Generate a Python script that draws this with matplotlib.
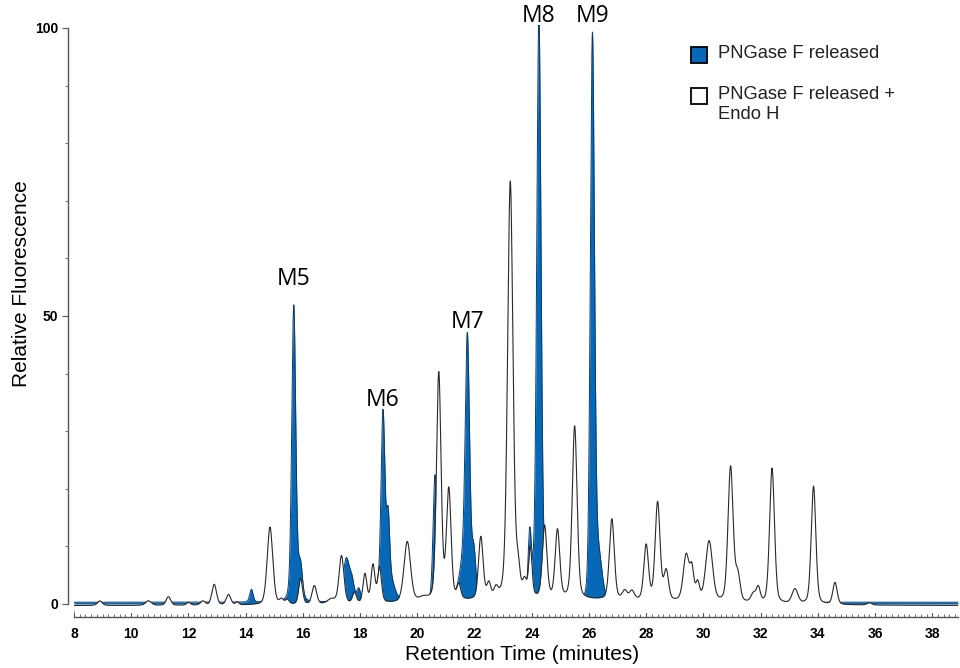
import numpy as np
import matplotlib
matplotlib.use("Agg")
import matplotlib.pyplot as plt
from matplotlib.patches import Rectangle
from matplotlib.ticker import MultipleLocator

# peak tables: retention time (min), height (%), FWHM (min)
endo_pos = [8.9, 10.6, 11.3, 12.0, 12.5, 12.9, 13.4, 13.7, 14.85, 15.25, 15.45, 15.92, 16.4,
            17.0, 17.35, 17.8, 18.17, 18.45, 18.68, 19.65, 20.2, 20.75, 21.1, 21.45, 22.22,
            22.5, 22.75, 23.25, 23.52, 23.75, 23.95, 24.45, 24.9, 25.5, 26.8, 27.25, 27.5,
            28.0, 28.4, 28.7, 29.4, 29.6, 29.8, 30.2, 30.95, 31.2, 31.75, 31.92, 32.4, 33.2,
            33.85, 34.6, 35.8, 25.0]
endo_height = [0.8, 0.8, 1.5, 0.5, 0.7, 3.6, 1.8, 0.5, 13.5, 0.8, 0.8, 4.5, 3.2,
               0.8, 8.3, 1.8, 5.0, 6.5, 6.0, 10.5, 0.6, 39.5, 19.0, 2.5, 10.8,
               2.5, 1.5, 72.5, 4.5, 2.5, 8.5, 12.5, 11.8, 30.0, 14.0, 1.5, 1.5,
               9.5, 17.0, 5.0, 8.0, 5.0, 3.0, 10.5, 23.5, 4.5, 1.5, 2.5, 23.5, 2.5,
               20.5, 3.8, 0.4, 1.0]
endo_fwhm = [0.2, 0.24, 0.19, 0.16, 0.2, 0.19, 0.19, 0.14, 0.23, 0.16, 0.16, 0.16, 0.19,
             0.34, 0.2, 0.16, 0.16, 0.16, 0.16, 0.27, 0.34, 0.19, 0.19, 0.16, 0.19,
             0.16, 0.16, 0.22, 0.16, 0.16, 0.14, 0.19, 0.19, 0.2, 0.2, 0.2, 0.2,
             0.19, 0.2, 0.19, 0.24, 0.16, 0.16, 0.28, 0.21, 0.19, 0.2, 0.16, 0.2, 0.24,
             0.19, 0.18, 0.2, 10.0]
endo_base = -0.3

png_pos = [14.2, 15.68, 15.75, 15.92, 17.52, 17.72, 17.95, 18.8, 18.98, 18.9, 20.62,
           21.75, 21.7, 21.98, 23.93, 24.25, 24.27, 26.12, 26.32]
png_height = [2.2, 48.0, 4.0, 4.5, 7.5, 3.0, 2.2, 27.5, 9.5, 6.5, 22.0,
              38.0, 9.0, 6.0, 10.5, 95.0, 7.0, 96.5, 8.0]
png_fwhm = [0.14, 0.16, 0.35, 0.15, 0.26, 0.18, 0.16, 0.15, 0.12, 0.5, 0.16,
            0.17, 0.45, 0.15, 0.13, 0.17, 0.45, 0.17, 0.3]
png_base = 0.3

mannose_labels = ["M5", "M6", "M7", "M8", "M9"]
mannose_rt = [15.68, 18.8, 21.75, 24.25, 26.12]
mannose_top = [53, 33.5, 46, 99.7, 99.5]
label_dy = [14.5, 8, 12, 10, 11]   # points above peak tip

BLUE = "#0868b8"


def build_trace(t, pos, height, fwhm, base, eta=0.3):
    # pseudo-Voigt peaks: mostly gaussian with a bit of lorentzian tail
    y = np.full_like(t, base)
    for p, h, w in zip(pos, height, fwhm):
        x = (t - p) / (w / 2)
        g = np.exp(-np.log(2) * x ** 2)
        lor = 1 / (1 + x ** 2)
        y += h * ((1 - eta) * g + eta * lor)
    return y


t = np.linspace(8, 38.9, 8000)
png = build_trace(t, png_pos, png_height, png_fwhm, png_base, eta=0.15)
endo = build_trace(t, endo_pos, endo_height, endo_fwhm, endo_base)

fig = plt.figure(figsize=(9.6, 6.68), dpi=100)
ax = fig.add_axes([74 / 960, 1 - 612.6 / 668, 884 / 960, (612.6 - 25.1) / 668])

# PNGase F trace filled blue, Endo H trace filled white on top of it
ax.fill_between(t, png, 0, color=BLUE, lw=0, zorder=1)
ax.plot(t, png, color="#0b3b6c", lw=0.7, zorder=1.5)
ax.fill_between(t, endo, -1.5, color="white", lw=0, zorder=2)
ax.plot(t, endo, color="#2a2a2a", lw=0.8, zorder=3)

for lab, x, top, dy in zip(mannose_labels, mannose_rt, mannose_top, label_dy):
    ax.annotate(lab, (x, top), xytext=(0, dy), textcoords="offset points",
                ha="center", va="center", fontsize=16.5, family="Open Sans",
                annotation_clip=False)

ax.set_xlim(8, 38.9)
ax.set_ylim(-1.5, 100.5)
for s in ("top", "right"):
    ax.spines[s].set_visible(False)
ax.spines["left"].set_position(("outward", 4.3))
ax.spines["left"].set_bounds(0, 100)
ax.spines["bottom"].set_position(("outward", 3.2))
ax.spines["bottom"].set_bounds(8, 38.9)
for s in ("left", "bottom"):
    ax.spines[s].set_color("#555555")
    ax.spines[s].set_linewidth(1.0)

ax.xaxis.set_major_locator(MultipleLocator(2))
ax.xaxis.set_minor_locator(MultipleLocator(0.2))
ax.yaxis.set_major_locator(MultipleLocator(50))
ax.yaxis.set_minor_locator(MultipleLocator(10))
ax.tick_params(axis="x", which="major", direction="in", length=5, width=0.8,
               color="#555555", pad=7)
ax.tick_params(axis="x", which="minor", direction="in", length=2.5, width=0.6,
               color="#555555")
ax.tick_params(axis="y", which="major", direction="out", length=4, width=0.8,
               color="#555555", pad=3)
ax.tick_params(axis="y", which="minor", direction="out", length=2, width=0.6,
               color="#555555")
for lbl in ax.get_xticklabels():
    lbl.set_fontweight("bold")
    lbl.set_fontsize(10)
    lbl.set_family("Liberation Sans")
for lbl in ax.get_yticklabels():
    lbl.set_fontweight("bold")
    lbl.set_fontsize(10)
    lbl.set_family("Liberation Sans")

fig.text(22 / 960, 1 - 284 / 668, "Relative Fluorescence", rotation=90,
         ha="center", va="center", fontsize=15, family="Liberation Sans")
fig.text(522 / 960, 1 - 654 / 668, "Retention Time (minutes)",
         ha="center", va="center", fontsize=15, family="Liberation Sans")

# legend drawn by hand
for ypx, face, text in ((55, BLUE, "PNGase F released"),
                        (96, "white", "PNGase F released +\nEndo H")):
    fig.patches.append(Rectangle((691 / 960, 1 - (ypx + 8) / 668), 16 / 960, 16 / 668,
                                 transform=fig.transFigure, facecolor=face,
                                 edgecolor="black", lw=1.3))
    fig.text(718 / 960, 1 - (ypx - 10) / 668, text, ha="left", va="top",
             fontsize=13.2, family="Liberation Sans", color="#222222",
             linespacing=1.25)

fig.savefig("out.png", dpi=100)
